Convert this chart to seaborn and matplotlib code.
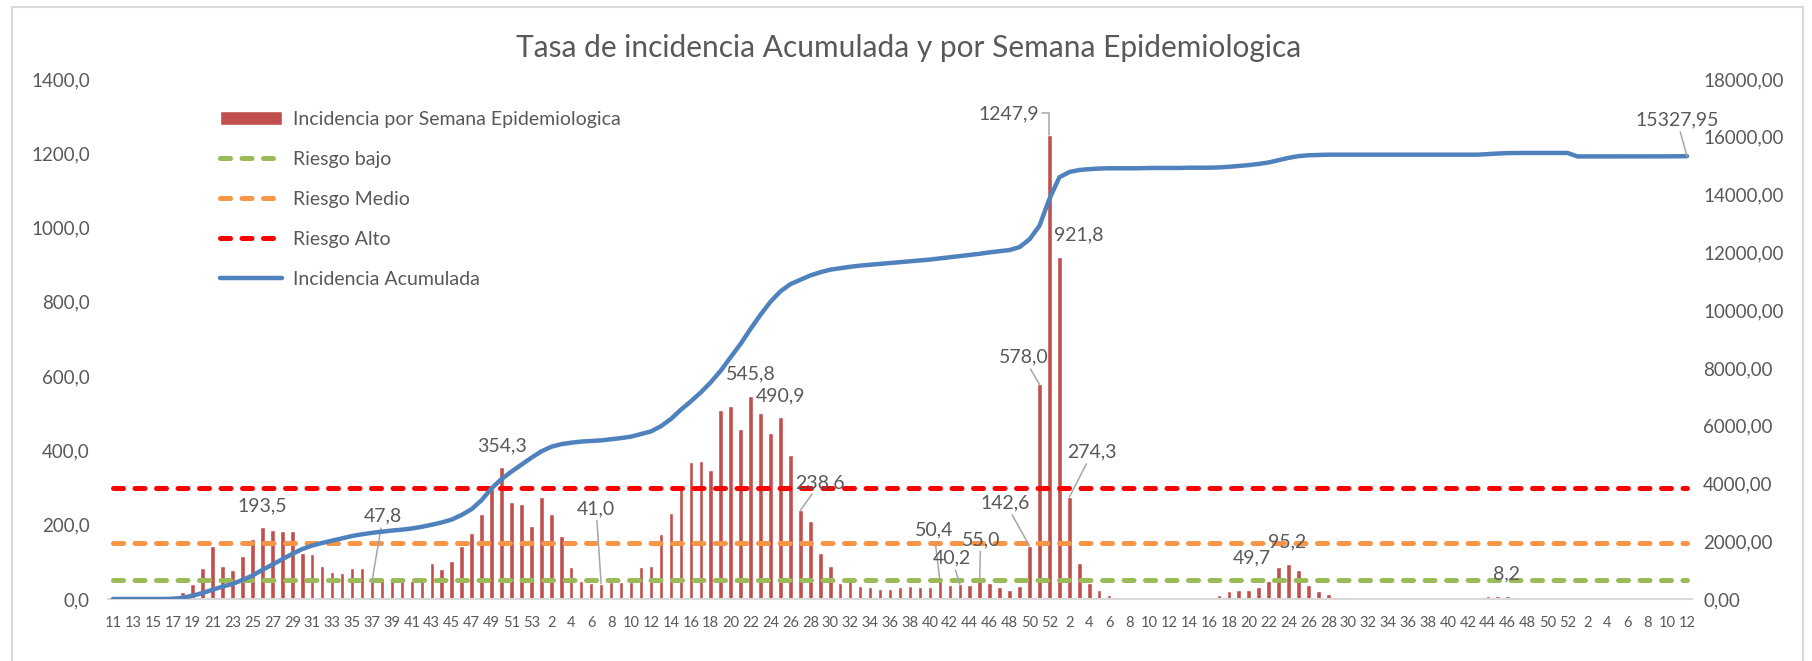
import numpy as np
import pandas as pd
import matplotlib
matplotlib.use('Agg')
import matplotlib.pyplot as plt
import seaborn as sns
from matplotlib.patches import Rectangle
from matplotlib.ticker import FuncFormatter

sns.set_style('white')
plt.rcParams['font.family'] = ['Lato', 'DejaVu Sans']

# Semanas epidemiologicas (2020 s11 -> 2023 s12)
semanas_2020 = list(range(11, 54))
semanas_2021 = list(range(1, 53))
semanas_2022 = list(range(1, 53))
semanas_2023 = list(range(1, 13))

# Incidencia por semana epidemiologica
incidencia_2020 = [0, 0, 0, 0, 0, 0, 1, 18, 40, 83, 143, 90, 77, 117, 162, 193.5,
                   186, 183, 183, 124, 120, 90, 74, 71, 83, 83, 47.8, 56, 52, 54,
                   49, 54, 97, 81, 102, 143, 177, 230, 300, 354.3, 262, 256, 196]
incidencia_2021 = [275, 229, 170, 87, 49, 43, 41.0, 45, 47, 47, 87, 90, 175, 232,
                   300, 369, 372, 347, 510, 519, 459, 545.8, 501, 447, 490.9, 387,
                   238.6, 211, 124, 90, 43, 60, 36, 33, 27, 27, 33, 36, 33, 33,
                   50.4, 38, 40.2, 38, 55.0, 44, 32, 23, 36, 142.6, 578.0, 1247.9]
incidencia_2022 = [921.8, 274.3, 98, 42, 23, 12, 4, 4, 4, 3, 0, 3, 0, 3, 3, 4,
                   12, 21, 23, 24, 32, 49.7, 87, 95.2, 79, 38, 21, 14, 0, 5, 3,
                   0, 0, 0, 0, 0, 0, 0, 0, 0, 0, 0, 0, 8, 7, 8.2, 5, 0, 0, 0, 0, 0]
incidencia_2023 = [0, 0, 0, 0, 0, 0, 0, 0, 0, 0, 0, 0]

# Incidencia acumulada (eje secundario)
acumulada_2020 = [0, 0, 0, 0, 0, 0, 10, 40, 115, 210, 320, 430, 520, 660, 810,
                  1010, 1190, 1380, 1560, 1730, 1850, 1940, 2020, 2100, 2180,
                  2240, 2290, 2330, 2370, 2400, 2440, 2500, 2570, 2650, 2750,
                  2910, 3110, 3420, 3830, 4150, 4410, 4650, 4890]
acumulada_2021 = [5110, 5270, 5360, 5410, 5450, 5470, 5490, 5530, 5570, 5620,
                  5710, 5800, 5980, 6230, 6550, 6840, 7150, 7500, 7900, 8370,
                  8830, 9350, 9840, 10290, 10650, 10900, 11050, 11200, 11310, 11400,
                  11450, 11500, 11540, 11570, 11600, 11630, 11660, 11690, 11720, 11750,
                  11790, 11830, 11870, 11910, 11950, 12000, 12040, 12080, 12180, 12450,
                  12920, 13850]
acumulada_2022 = [14600, 14780, 14850, 14880, 14900, 14910, 14910, 14910, 14910, 14920,
                  14920, 14920, 14920, 14930, 14930, 14930, 14940, 14960, 14990, 15020,
                  15060, 15110, 15190, 15270, 15330, 15360, 15370, 15380, 15380, 15380,
                  15380, 15380, 15380, 15380, 15380, 15380, 15380, 15380, 15380, 15380,
                  15380, 15380, 15380, 15400, 15420, 15435, 15440, 15440, 15440, 15440,
                  15440, 15440]
acumulada_2023 = [15320, 15320, 15320, 15320, 15320, 15320, 15320, 15320, 15320,
                  15322, 15325, 15327.95]

# Umbrales de riesgo
riesgo_bajo = 50
riesgo_medio = 150
riesgo_alto = 300

semanas = semanas_2020 + semanas_2021 + semanas_2022 + semanas_2023
incidencia = incidencia_2020 + incidencia_2021 + incidencia_2022 + incidencia_2023
acumulada = acumulada_2020 + acumulada_2021 + acumulada_2022 + acumulada_2023
n = len(semanas)

df = pd.DataFrame({'pos': np.arange(n), 'semana': semanas,
                   'incidencia': incidencia, 'acumulada': acumulada})

# Etiquetas de datos: (posicion, dx px, dy px, linea guia)
etiquetas_barras = [
    (15, 0, 21, False), (26, 11, 65, True), (39, 0, 22, False),
    (49, -5, 75, True), (64, 0, 22, False), (67, 0, 21, False),
    (69, 20, 28, True), (83, -6, 50, True), (85, -8, 26, True),
    (87, 1, 39, True), (92, -24, 43, True), (93, -16, 27, True),
    (94, -41, 22, 'codo'), (95, 19, 22, False), (96, 23, 45, True),
    (116, -17, 23, False), (118, -1, 22, False), (140, -1, 22, False),
]

W, H = 1812, 661
fig = plt.figure(figsize=(W / 100, H / 100), dpi=100)
ax = fig.add_axes([108 / W, 1 - 599 / H, (1692 - 108) / W, (599 - 79) / H])

sns.barplot(data=df, x='pos', y='incidencia', native_scale=True, width=0.45,
            color='#C0504D', saturation=1, errorbar=None, ax=ax,
            label='Incidencia por Semana Epidemiologica')

for valor, color, nombre in [(riesgo_bajo, '#9BBB59', 'Riesgo bajo'),
                             (riesgo_medio, '#F79646', 'Riesgo Medio'),
                             (riesgo_alto, '#FF0000', 'Riesgo Alto')]:
    sns.lineplot(x=df['pos'], y=[valor] * n, ax=ax, color=color, lw=3.6,
                 linestyle=(0, (2.0, 2.3)), dash_capstyle='round',
                 label=nombre, legend=False)

ax2 = ax.twinx()
sns.lineplot(data=df, x='pos', y='acumulada', ax=ax2, color='#4F81BD', lw=3.2,
             label='Incidencia Acumulada', legend=False)

gris = '#595959'
ax.set_xlim(-0.5, n - 0.5)
ax.set_ylim(0, 1400)
ax.set_yticks(np.arange(0, 1401, 200))
ax.yaxis.set_major_formatter(FuncFormatter(lambda v, p: f'{v:.1f}'.replace('.', ',')))
ax2.set_ylim(0, 18000)
ax2.set_yticks(np.arange(0, 18001, 2000))
ax2.yaxis.set_major_formatter(FuncFormatter(lambda v, p: f'{v:.2f}'.replace('.', ',')))

ax.set_xticks(df['pos'][::2])
ax.set_xticklabels(df['semana'][::2].astype(str))
ax.tick_params(axis='x', length=0, pad=12, labelsize=10.5, labelcolor=gris)
ax.tick_params(axis='y', length=0, pad=13, labelsize=13.5, labelcolor=gris)
ax2.tick_params(axis='y', length=0, pad=8, labelsize=13.5, labelcolor=gris)
ax.set_xlabel('')
ax.set_ylabel('')
ax2.set_ylabel('')
ax.grid(False)
ax2.grid(False)

for a in (ax, ax2):
    for lado in ('top', 'left', 'right'):
        a.spines[lado].set_visible(False)
    a.spines['bottom'].set_color('#D9D9D9')
    a.spines['bottom'].set_linewidth(1.5)
ax2.spines['bottom'].set_visible(False)

# Etiquetas de datos
for idx, dx, dy, guia in etiquetas_barras:
    valor = incidencia[idx]
    props = None
    if guia:
        props = dict(arrowstyle='-', color='#A6A6A6', lw=1.1, shrinkA=0, shrinkB=0)
        if guia == 'codo':
            props['connectionstyle'] = 'angle,angleA=0,angleB=90,rad=0'
    ax.annotate(f'{valor:.1f}'.replace('.', ','), xy=(idx, valor), xytext=(dx, dy),
                textcoords='offset pixels', ha='center', va='center',
                fontsize=14, color=gris, arrowprops=props)

ax2.annotate(f'{acumulada[-1]:.2f}'.replace('.', ','), xy=(n - 1, acumulada[-1]),
             xytext=(-10, 36), textcoords='offset pixels', ha='center', va='center',
             fontsize=14, color=gris,
             arrowprops=dict(arrowstyle='-', color='#A6A6A6', lw=1.1, shrinkA=0, shrinkB=0))

# Leyenda combinada (barras primero)
if ax.get_legend():
    ax.get_legend().remove()
h1, l1 = ax.get_legend_handles_labels()
h2, l2 = ax2.get_legend_handles_labels()
handles, labels = h1 + h2, l1 + l2
orden = [labels.index(t) for t in ['Incidencia por Semana Epidemiologica', 'Riesgo bajo',
                                   'Riesgo Medio', 'Riesgo Alto', 'Incidencia Acumulada']]
fig.legend([handles[i] for i in orden], [labels[i] for i in orden],
           loc='upper left', bbox_to_anchor=(220 / W, 1 - 111 / H),
           frameon=False, fontsize=14, handlelength=3.2, handletextpad=0.55,
           labelspacing=1.18, borderpad=0, borderaxespad=0, labelcolor=gris)

fig.text(909 / W, 1 - 48 / H, 'Tasa de incidencia Acumulada y por Semana Epidemiologica',
         ha='center', va='center', fontsize=21.5, color=gris)

fig.add_artist(Rectangle((12 / W, -0.05), (1803 - 12) / W, 1.05 - 7 / H,
                         transform=fig.transFigure, fill=False,
                         edgecolor='#D9D9D9', lw=1.5))

fig.savefig('out.png', dpi=100)
